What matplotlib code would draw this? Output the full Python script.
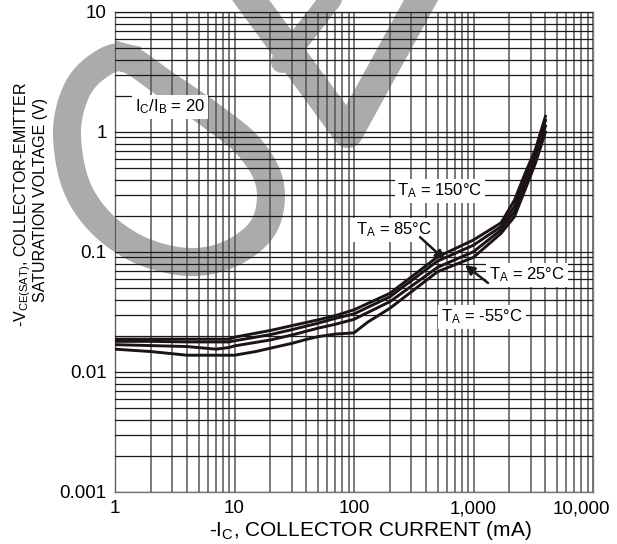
import numpy as np
import matplotlib
matplotlib.use("Agg")
import matplotlib.pyplot as plt
from matplotlib.ticker import LogLocator, NullFormatter
from matplotlib.lines import Line2D
from matplotlib.transforms import ScaledTranslation

plt.rcParams['font.family'] = ['Liberation Sans', 'DejaVu Sans']
plt.rcParams['mathtext.fontset'] = 'custom'
plt.rcParams['mathtext.rm'] = 'Liberation Sans'

# collector current (mA) and Vce(sat) (V)
ic_150 = [1, 2, 4, 7, 9, 10, 20, 30, 50, 70, 100, 200, 500, 1000, 1700, 2200, 2700, 3300, 4000]
v_150 = [0.0188, 0.0188, 0.0188, 0.0188, 0.0188, 0.0195, 0.0222, 0.0243, 0.0272, 0.0295, 0.033,
         0.0453, 0.091, 0.126, 0.175, 0.27, 0.45, 0.72, 1.35]
ic_85 = [1, 2, 4, 7, 9, 10, 20, 30, 50, 70, 100, 200, 500, 1000, 1700, 2200, 2700, 3300, 4000]
v_85 = [0.018, 0.018, 0.0178, 0.0178, 0.0178, 0.0182, 0.0205, 0.0225, 0.0255, 0.028, 0.0305,
        0.0424, 0.084, 0.114, 0.163, 0.24, 0.40, 0.65, 1.25]
ic_25 = [1, 2, 4, 7, 9, 10, 20, 30, 50, 70, 100, 200, 500, 1000, 1700, 2200, 2700, 3300, 4000]
v_25 = [0.0169, 0.0166, 0.0163, 0.0155, 0.016, 0.0165, 0.0185, 0.0203, 0.0232, 0.025, 0.0275,
        0.0386, 0.0745, 0.1006, 0.153, 0.217, 0.36, 0.6, 1.12]
ic_m55 = [1, 2, 4, 7, 10, 15, 20, 30, 40, 50, 70, 100, 130, 200, 500, 1000, 1700, 2200, 2700, 3300, 4000]
v_m55 = [0.0155, 0.0148, 0.0138, 0.0138, 0.0138, 0.0148, 0.0158, 0.0173, 0.0187, 0.0197, 0.0207,
         0.0212, 0.026, 0.034, 0.0685, 0.0903, 0.143, 0.197, 0.33, 0.55, 1.0]

xticks = [1, 10, 100, 1000, 10000]
xlabels = ['1', '10', '100', '1,000', '10,000']
yticks = [0.001, 0.01, 0.1, 1, 10]
ylabels = ['0.001', '0.01', '0.1', '1', '10']

W, H = 617, 544
fig = plt.figure(figsize=(W / 100, H / 100), dpi=100)
ax = fig.add_axes([115 / W, 1 - 492 / H, 478 / W, 480 / H])
ax.patch.set_alpha(0)

# grey watermark behind the chart (figure pixel coords, y down)
def wm_line(xs, ys, lw_px, **kw):
    fig.add_artist(Line2D(np.array(xs) / W, 1 - np.array(ys) / H, transform=fig.transFigure,
                          color='#ababab', lw=lw_px * 0.72, zorder=-1, **kw))

loop = np.array([(125, 58), (165, 84), (213, 117), (250, 148), (270, 185), (264, 226), (232, 253),
                 (190, 262), (142, 251), (102, 224), (76, 185), (67, 133), (76, 92), (97, 67)], float)
n = len(loop)
pts = []
for i in range(n):
    p0, p1, p2, p3 = loop[i - 1], loop[i], loop[(i + 1) % n], loop[(i + 2) % n]
    for s in np.linspace(0, 1, 12, endpoint=False):
        pts.append(0.5 * (2 * p1 + (-p0 + p2) * s + (2 * p0 - 5 * p1 + 4 * p2 - p3) * s ** 2
                          + (-p0 + 3 * p1 - 3 * p2 + p3) * s ** 3))
pts.append(pts[0])
pts = np.array(pts)
wm_line(pts[:, 0], pts[:, 1], 28, solid_joinstyle='round')
wm_line([236, 348, 432], [-20, 133, -20], 30, solid_joinstyle='round')
wm_line([338, 282], [-10, 62], 22, solid_capstyle='round')

ax.set_xscale('log')
ax.set_yscale('log')
ax.set_xlim(1, 10000)
ax.set_ylim(0.001, 10)

for x, y in [(ic_150, v_150), (ic_85, v_85), (ic_25, v_25), (ic_m55, v_m55)]:
    ax.plot(x, y, color='#1c1414', lw=2.1, zorder=4, solid_joinstyle='round')

ax.xaxis.set_minor_locator(LogLocator(base=10, subs=np.arange(2, 10), numticks=100))
ax.yaxis.set_minor_locator(LogLocator(base=10, subs=np.arange(2, 10), numticks=100))
ax.xaxis.set_minor_formatter(NullFormatter())
ax.yaxis.set_minor_formatter(NullFormatter())
ax.set_xticks(xticks, xlabels)
ax.set_yticks(yticks, ylabels)
ax.set_axisbelow(False)
ax.grid(True, which='both', axis='x', color='#555555', lw=1.1, zorder=2)
ax.grid(True, which='both', axis='y', color='#1a1a1a', lw=0.9, zorder=2)
ax.tick_params(which='both', length=0, labelsize=13.5, pad=6)
lab = ax.get_xticklabels()[-1]
lab.set_transform(lab.get_transform() + ScaledTranslation(-0.12, 0, fig.dpi_scale_trans))
for sp in ax.spines.values():
    sp.set_color('#777777')
    sp.set_linewidth(1)

box = dict(facecolor='white', edgecolor='none', pad=2)
ax.text(2.9, 1.62, r'$\mathregular{I_C/I_B}$ = 20', fontsize=12, ha='center', va='center', bbox=box, zorder=5)
ax.text(524, 0.323, r'$\mathregular{T_A}$ = 150°C', fontsize=12, ha='center', va='center', bbox=box, zorder=5)
ax.text(216, 0.153, r'$\mathregular{T_A}$ = 85°C', fontsize=12, ha='center', va='center', bbox=box, zorder=5)
ax.text(2805, 0.0643, r'$\mathregular{T_A}$ = 25°C', fontsize=12, ha='center', va='center', bbox=box, zorder=5)
ax.text(1178, 0.0287, r'$\mathregular{T_A}$ = -55°C', fontsize=12, ha='center', va='center', bbox=box, zorder=5)
arrow = dict(arrowstyle='-|>', color='#1a1a1a', lw=1.8, mutation_scale=14, shrinkA=0, shrinkB=0)
ax.annotate('', xy=(578, 0.0858), xytext=(357, 0.133), arrowprops=arrow, zorder=6)
ax.annotate('', xy=(849, 0.078), xytext=(1322, 0.0552), arrowprops=arrow, zorder=6)

fig.text(370 / W, 1 - 530 / H, r'-$\mathregular{I_C}$, COLLECTOR CURRENT (mA)', fontsize=15,
         ha='center', va='center')
fig.text(23 / W, 1 - 205 / H, r'-$\mathregular{V_{CE(SAT)}}$, COLLECTOR-EMITTER', fontsize=11.5,
         ha='center', va='center', rotation=90)
fig.text(41 / W, 1 - 200 / H, 'SATURATION VOLTAGE (V)', fontsize=11.5,
         ha='center', va='center', rotation=90)

fig.savefig('out.png', dpi=100)
